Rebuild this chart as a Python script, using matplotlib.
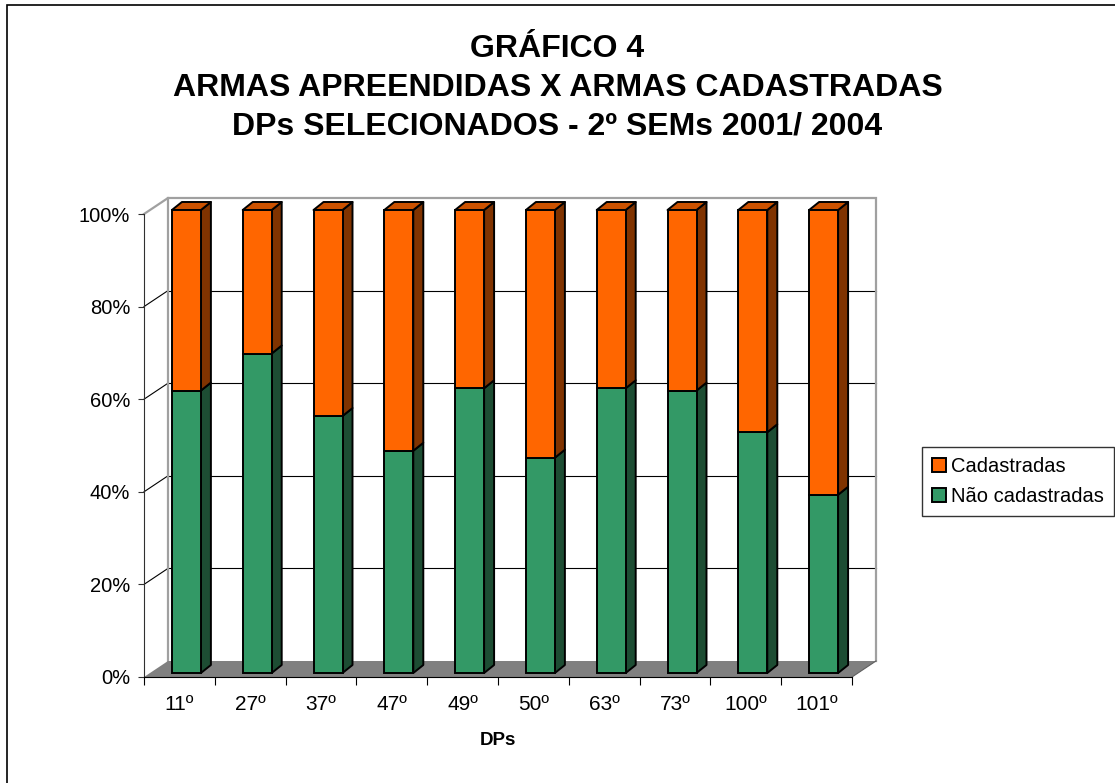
import numpy as np
import matplotlib.pyplot as plt
from matplotlib.patches import Polygon, Patch, Rectangle
from matplotlib.ticker import PercentFormatter

plt.rcParams['font.family'] = ['Liberation Sans', 'DejaVu Sans']

# dados (% do total de armas por DP)
categories = ['11º', '27º', '37º', '47º', '49º', '50º', '63º', '73º', '100º', '101º']
nao_cadastradas = [61.0, 69.0, 55.5, 48.0, 61.5, 46.5, 61.5, 61.0, 52.0, 38.5]
cadastradas = [39.0, 31.0, 44.5, 52.0, 38.5, 53.5, 38.5, 39.0, 48.0, 61.5]

GREEN, GREEN_SIDE = '#339966', '#1d4d33'
ORANGE, ORANGE_SIDE, ORANGE_TOP = '#ff6600', '#803300', '#cc5200'

W, H = 1115, 783
fig = plt.figure(figsize=(W / 100, H / 100), dpi=100)
ax = fig.add_axes([144 / W, 1 - 677 / H, 708 / W, 463 / H])
n = len(categories)
ax.set_xlim(-0.5, n - 0.5)
ax.set_ylim(0, 1)
ax.patch.set_visible(False)

# tamanho de um pixel em unidades de dados
px_x = n / 708
px_y = 1 / 463
wdx, wdy = 24 * px_x, 16 * px_y      # profundidade das paredes
bdx, bdy = 10 * px_x, 8 * px_y       # profundidade das barras
boff_x, boff_y = 7 * px_x, 4 * px_y  # deslocamento da face frontal
bar_w = 29 * px_x

x0, x1 = -0.5, n - 0.5

# parede do fundo e piso
ax.add_patch(Polygon([(x0 + wdx, wdy), (x1 + wdx, wdy), (x1 + wdx, 1 + wdy), (x0 + wdx, 1 + wdy)],
                     closed=True, fc='white', ec='none', zorder=0, clip_on=False))
ax.add_patch(Polygon([(x0, 0), (x1, 0), (x1 + wdx, wdy), (x0 + wdx, wdy)],
                     closed=True, fc='#808080', ec='none', zorder=1, clip_on=False))

# linhas de grade (fundo + parede lateral)
for g in [0.2, 0.4, 0.6, 0.8]:
    ax.plot([x0 + wdx, x1 + wdx], [g + wdy, g + wdy], color='black', lw=0.8, zorder=0.5, clip_on=False)
    ax.plot([x0, x0 + wdx], [g, g + wdy], color='black', lw=0.8, zorder=0.5, clip_on=False)
gray = '#a0a0a0'
ax.plot([x0, x0 + wdx, x1 + wdx, x1 + wdx], [1, 1 + wdy, 1 + wdy, wdy], color=gray, lw=1.6,
        zorder=0.6, clip_on=False, solid_joinstyle='miter')
ax.plot([x0 + wdx, x0 + wdx], [wdy, 1 + wdy], color=gray, lw=1.6, zorder=0.6, clip_on=False)
ax.plot([x1, x1 + wdx], [0, wdy], color='#606060', lw=0.8, zorder=1.1, clip_on=False)

# barras 3D empilhadas
x = np.arange(n)
xf = x + boff_x
nao = np.array(nao_cadastradas) / 100
cad = np.array(cadastradas) / 100
ekw = dict(edgecolor='black', linewidth=1.4)
ax.bar(xf, nao, width=bar_w, bottom=boff_y, color=GREEN, zorder=3, clip_on=False, **ekw)
ax.bar(xf, cad, width=bar_w, bottom=boff_y + nao, color=ORANGE, zorder=3, clip_on=False, **ekw)
for xi, g, c in zip(xf, nao, cad):
    r = xi + bar_w / 2
    l = xi - bar_w / 2
    y0, y1, y2 = boff_y, boff_y + g, boff_y + g + c
    ax.add_patch(Polygon([(r, y0), (r + bdx, y0 + bdy), (r + bdx, y1 + bdy), (r, y1)],
                         fc=GREEN_SIDE, zorder=2, clip_on=False, joinstyle='round', **ekw))
    ax.add_patch(Polygon([(r, y1), (r + bdx, y1 + bdy), (r + bdx, y2 + bdy), (r, y2)],
                         fc=ORANGE_SIDE, zorder=2, clip_on=False, joinstyle='round', **ekw))
    ax.add_patch(Polygon([(l, y2), (l + bdx, y2 + bdy), (r + bdx, y2 + bdy), (r, y2)],
                         fc=ORANGE_TOP, zorder=2, clip_on=False, joinstyle='round', **ekw))

# eixos
for s in ['top', 'right']:
    ax.spines[s].set_visible(False)
ax.spines['left'].set_color('#303030')
ax.spines['bottom'].set_color('black')
ax.spines['left'].set_zorder(4)
ax.spines['bottom'].set_zorder(4)
ax.set_yticks(np.arange(0, 1.01, 0.2))
ax.yaxis.set_major_formatter(PercentFormatter(1.0, decimals=0))
ax.tick_params(axis='y', direction='out', length=4, pad=6, labelsize=14.5, color='#303030')
ax.set_xticks(np.arange(-0.5, n, 1))
ax.set_xticklabels([])
ax.set_xticks(x, minor=True)
ax.set_xticklabels(categories, minor=True)
ax.tick_params(axis='x', which='major', direction='out', length=5.5)
ax.tick_params(axis='x', which='minor', length=0, pad=13, labelsize=15)
ax.set_xlabel('DPs', fontsize=13.5, fontweight='bold', labelpad=13)

# legenda
handles = [Patch(fc=ORANGE, ec='black', lw=1.4), Patch(fc=GREEN, ec='black', lw=1.4)]
leg = fig.legend(handles, ['Cadastradas', 'Não cadastradas'], loc='upper left',
                 bbox_to_anchor=(922 / W, 1 - 447 / H), fontsize=14.5, frameon=True,
                 fancybox=False, edgecolor='black', handlelength=0.7, handleheight=0.7,
                 handletextpad=0.25, borderpad=0.5, labelspacing=0.55, borderaxespad=0)
leg.get_frame().set_linewidth(1.0)

# título
fig.text(0.5, 1 - 34 / H,
         'GRÁFICO 4\nARMAS APREENDIDAS X ARMAS CADASTRADAS\nDPs SELECIONADOS - 2º SEMs 2001/ 2004',
         ha='center', va='top', fontsize=23, fontweight='bold', linespacing=1.39)

# moldura externa
fig.patches.append(Rectangle((7 / W, -0.05), 1.1, 1 - 5 / H + 0.05, transform=fig.transFigure,
                             fill=False, ec='black', lw=1.2))

fig.savefig('out.png', dpi=100)
